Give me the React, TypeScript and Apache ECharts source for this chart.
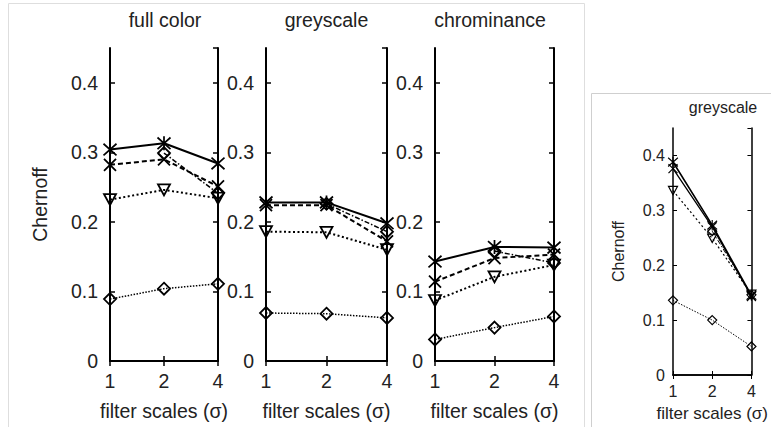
import React, { useEffect, useRef } from "react";
import * as echarts from "echarts";

// ---- data ----
const scales = ["1", "2", "4"];
const panelTitles = ["full color", "greyscale", "chrominance", "greyscale"];
const yLabel = "Chernoff";
const xLabel = "filter scales (σ)";

// full color panel
const fullStar = [0.304, 0.313, 0.284];
const fullCross = [0.282, 0.29, 0.251];
const fullDiamondHi = [null, 0.299, 0.241];
const fullTriangle = [0.232, 0.246, 0.234];
const fullDiamondLo = [0.089, 0.104, 0.111];

// greyscale panel
const greyStar = [0.228, 0.228, 0.198];
const greyCross = [0.224, 0.224, 0.172];
const greyDiamondHi = [null, 0.226, 0.186];
const greyTriangle = [0.186, 0.185, 0.16];
const greyDiamondLo = [0.069, 0.068, 0.062];

// chrominance panel
const chromStar = [0.143, 0.164, 0.163];
const chromCross = [0.114, 0.148, 0.153];
const chromDiamondHi = [null, 0.158, 0.141];
const chromTriangle = [0.087, 0.121, 0.138];
const chromDiamondLo = [0.031, 0.048, 0.064];

// inset greyscale panel
const insetStar = [0.388, 0.273, 0.145];
const insetCross = [0.376, 0.27, 0.143];
const insetDiamondHi = [null, 0.262, 0.146];
const insetTriangle = [0.336, 0.249, 0.147];
const insetDiamondLo = [0.136, 0.1, 0.052];

const yMin = 0;
const yMax = 0.45;
const yStep = 0.1;

// ---- styling / layout ----
const FONT = 'Arial, "Liberation Sans", Helvetica, sans-serif';
const STAR = "path://M0,1L10,11M10,1L0,11M5,0L5,12";
const CROSS = "path://M0,0L10,10M10,0L0,10";
const TRI = "path://M0,0L10,0L5,9Z";
const DIAM = "path://M5,0L10,5L5,10L0,5Z";

type Panel = {
  title: string;
  grid: { left: number; top: number; width: number; height: number };
  series: (number | null)[][];
  big: boolean;
  ylabel: boolean;
  titleX: number;
  titleY: number;
};

const panels: Panel[] = [
  {
    title: panelTitles[0],
    grid: { left: 110, top: 48, width: 108, height: 313 },
    series: [fullDiamondLo, fullTriangle, fullDiamondHi, fullCross, fullStar],
    big: true,
    ylabel: true,
    titleX: 165,
    titleY: 19.5,
  },
  {
    title: panelTitles[1],
    grid: { left: 266, top: 48, width: 121, height: 313 },
    series: [greyDiamondLo, greyTriangle, greyDiamondHi, greyCross, greyStar],
    big: true,
    ylabel: false,
    titleX: 326.5,
    titleY: 19.5,
  },
  {
    title: panelTitles[2],
    grid: { left: 435, top: 48, width: 119, height: 313 },
    series: [chromDiamondLo, chromTriangle, chromDiamondHi, chromCross, chromStar],
    big: true,
    ylabel: false,
    titleX: 490,
    titleY: 19.5,
  },
  {
    title: panelTitles[3],
    grid: { left: 673, top: 128, width: 94, height: 247 },
    series: [insetDiamondLo, insetTriangle, insetDiamondHi, insetCross, insetStar],
    big: false,
    ylabel: true,
    titleX: 723,
    titleY: 107,
  },
];

function buildOption() {
  const grid: any[] = [];
  const xAxis: any[] = [];
  const yAxis: any[] = [];
  const series: any[] = [];
  const graphic: any[] = [
    {
      type: "rect",
      shape: { x: 8.5, y: 3.5, width: 576, height: 440 },
      style: { fill: "none", stroke: "#dedede", lineWidth: 1 },
      z: 0,
    },
    {
      type: "rect",
      shape: { x: 591.5, y: 93.5, width: 200, height: 400 },
      style: { fill: "#fff", stroke: "#cfcfcf", lineWidth: 1 },
      z: 0,
    },
  ];

  panels.forEach((p, i) => {
    const big = p.big;
    const axW = big ? 2 : 1.5;
    const tickFont = big ? 19.5 : 16;
    const nameFont = big ? 19.5 : 17;
    grid.push({ ...p.grid, containLabel: false });
    const lineCommon = { show: true, lineStyle: { color: "#000", width: axW } };
    const tickCommon = { inside: true, length: big ? 5 : 4, lineStyle: { color: "#000", width: big ? 1.5 : 1 } };
    xAxis.push({
      type: "category",
      gridIndex: i,
      data: scales,
      boundaryGap: false,
      position: "bottom",
      axisLine: lineCommon,
      axisTick: tickCommon,
      axisLabel: { color: "#222", fontSize: tickFont, fontFamily: FONT, margin: big ? 10 : 8 },
      splitLine: { show: false },
      name: xLabel,
      nameLocation: "middle",
      nameGap: big ? 40 : 30,
      nameTextStyle: { color: "#222", fontSize: nameFont, fontFamily: FONT },
    });
    xAxis.push({
      type: "category",
      gridIndex: i,
      data: scales,
      boundaryGap: false,
      position: "top",
      axisLine: lineCommon,
      axisTick: tickCommon,
      axisLabel: { show: false },
      splitLine: { show: false },
    });
    const yCommon = {
      type: "value",
      gridIndex: i,
      min: yMin,
      max: yMax,
      interval: yStep,
      axisLine: lineCommon,
      axisTick: { show: true, ...tickCommon },
      splitLine: { show: false },
    };
    yAxis.push({
      ...yCommon,
      position: "left",
      axisLabel: {
        color: "#222",
        fontSize: tickFont,
        fontFamily: FONT,
        margin: big ? 12 : 8,
        showMaxLabel: false,
        formatter: (v: number) => (v === 0 ? "0" : (Math.round(v * 10) / 10).toFixed(1)),
      },
      name: p.ylabel ? yLabel : "",
      nameLocation: "middle",
      nameGap: big ? 60 : 47,
      nameTextStyle: { color: "#222", fontSize: big ? 19.5 : 16, fontFamily: FONT },
    });
    yAxis.push({
      ...yCommon,
      position: "right",
      axisLabel: { show: false },
    });

    graphic.push({
      type: "text",
      x: p.titleX,
      y: p.titleY,
      style: {
        text: p.title,
        fill: "#222",
        font: `${big ? 19.5 : 16}px ${FONT}`,
        textAlign: "center",
        textVerticalAlign: "middle",
      },
      z: 10,
    });

    const lw = big ? 2 : 1.6;
    const bw = big ? 1.8 : 1.2;
    const sc = big ? 1 : 0.75;
    const defs = [
      { sym: DIAM, size: [12 * sc, 12 * sc], line: { type: [1.5, 1.5], width: big ? 1.5 : 1 } },
      { sym: TRI, size: [12 * sc, 11 * sc], line: { type: [2, 2.5], width: big ? 2 : 1.2 } },
      { sym: DIAM, size: [12 * sc, 12 * sc], line: { type: [5, 2, 1.5, 2], width: big ? 1.5 : 1 } },
      { sym: CROSS, size: [12 * sc, 12 * sc], line: { type: big ? [5, 3] : "solid", width: big ? 2 : 1.3 } },
      { sym: STAR, size: [13 * sc, 14 * sc], line: { type: "solid", width: lw } },
    ];
    p.series.forEach((vals, k) => {
      const d = defs[k];
      series.push({
        type: "line",
        xAxisIndex: 2 * i,
        yAxisIndex: 2 * i,
        data: vals,
        symbol: d.sym,
        symbolSize: d.size,
        showSymbol: true,
        showAllSymbol: true,
        connectNulls: false,
        lineStyle: { color: "#000", width: d.line.width, type: d.line.type },
        itemStyle: { color: "none", borderColor: "#000", borderWidth: bw },
        emphasis: { disabled: true },
        z: 2 + k,
      });
    });
  });

  return {
    animation: false,
    backgroundColor: "#fff",
    textStyle: { fontFamily: FONT },
    grid,
    xAxis,
    yAxis,
    series,
    graphic,
  };
}

export default function App() {
  const ref = useRef<HTMLDivElement>(null);
  useEffect(() => {
    if (!ref.current) return;
    const chart = echarts.init(ref.current, undefined, { renderer: "svg" });
    chart.setOption(buildOption() as any);
    return () => chart.dispose();
  }, []);
  return (
    <div
      ref={ref}
      style={{ position: "absolute", left: 0, top: 0, width: 771, height: 427, background: "#fff" }}
    />
  );
}
